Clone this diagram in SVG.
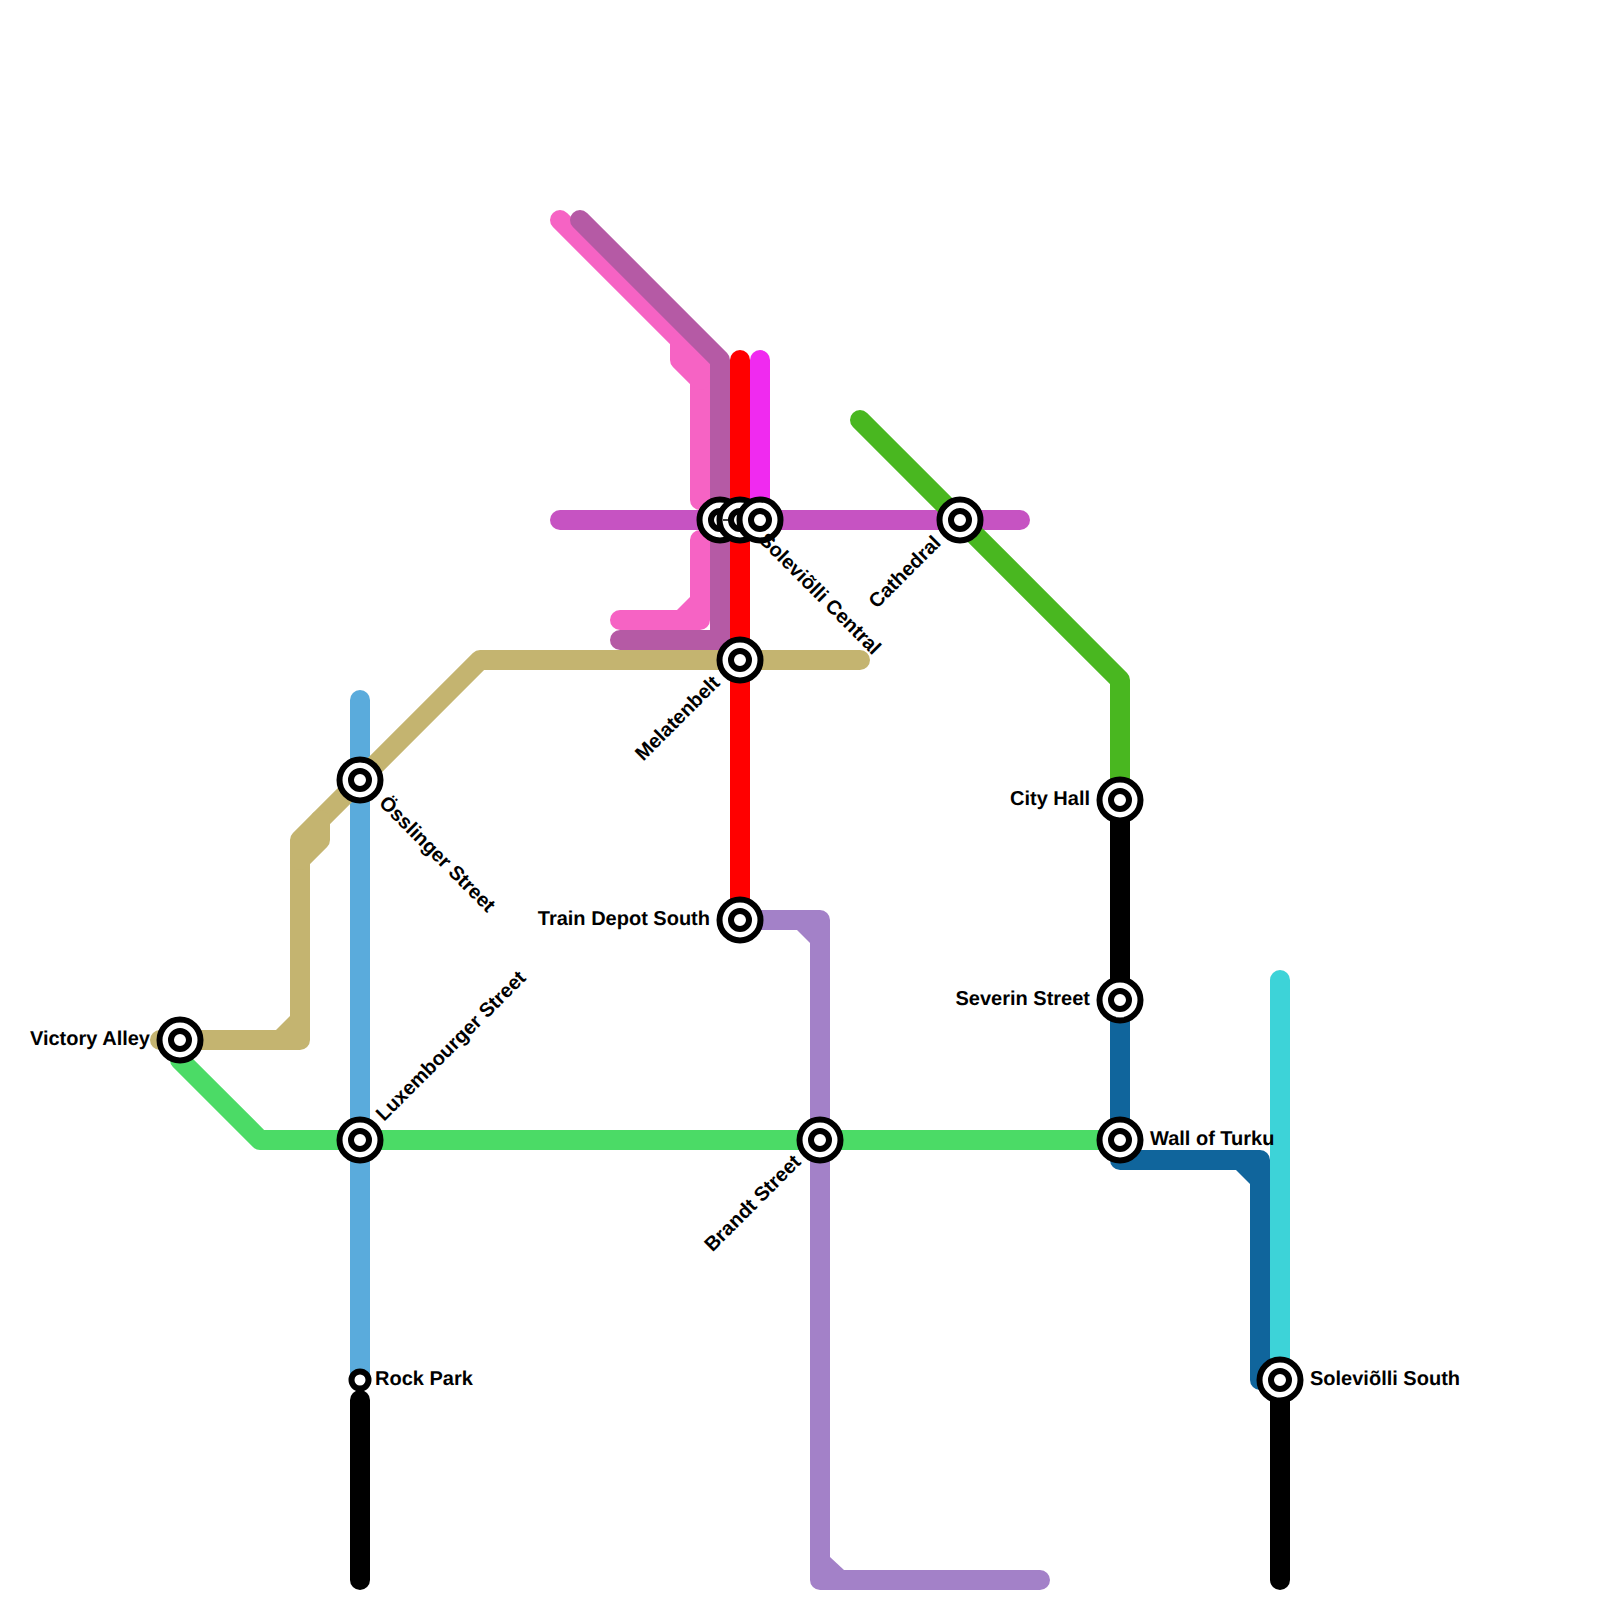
<svg xmlns="http://www.w3.org/2000/svg" width="1600" height="1600" viewBox="0 0 1600 1600">
<style>
.l{fill:none;stroke-width:20;stroke-linecap:round;stroke-linejoin:round}
.s{fill:#fff;stroke:#000;stroke-width:6}
.i{fill:#fff;stroke:#000;stroke-width:6}
text{font-family:"Liberation Sans",Arial,sans-serif;font-size:20px;font-weight:700;fill:#000;text-rendering:geometricPrecision}
.e{text-anchor:end}
</style>
<rect width="1600" height="1600" fill="#fff"/>
<g id="connectors">
<path class="l" stroke="#5aabdc" d="M360 700V1380"/>
<path class="l" stroke="#000" d="M360 1400V1580"/>
<path class="l" stroke="#c4b470" d="M160 1040H300V840L480 660H860"/>
<path class="l" stroke="#c4b470" d="M300 860L320 840V820"/>
<path fill="#c4b470" d="M290 1016L276 1030H290Z"/>
<path class="l" stroke="#4bdb66" d="M180 1060L260 1140H1120"/>
<path class="l" stroke="#f663c4" d="M560 220L700 360V500"/>
<path class="l" stroke="#f663c4" d="M680 340V360L700 380"/>
<path class="l" stroke="#b55aa5" d="M580 220L720 360V640H620"/>
<path class="l" stroke="#f663c4" d="M700 540V620H620"/>
<path fill="#f663c4" d="M690 597L677 610H690Z"/>
<path class="l" stroke="#f02af0" d="M760 360V520"/>
<path class="l" stroke="#ff0000" d="M740 360V920"/>
<path class="l" stroke="#c653c2" d="M560 520H1020"/>
<path class="l" stroke="#49b720" d="M860 420L1120 680V800"/>
<path class="l" stroke="#a381c8" d="M740 920H820V1580H1040"/>
<path fill="#a381c8" d="M797 930L810 943V930Z"/>
<path fill="#a381c8" d="M830 1557L844 1570H830Z"/>
<path class="l" stroke="#000" d="M1120 800V1000"/>
<path class="l" stroke="#3dd3d8" d="M1280 980V1380"/>
<path class="l" stroke="#10659c" d="M1120 1000V1160H1260V1380"/>
<path fill="#10659c" d="M1236 1170L1250 1184V1170Z"/>
<path class="l" stroke="#000" d="M1280 1380V1580"/>
</g>
<g id="victory-alley"><circle class="s" cx="180" cy="1040" r="20.5"/><circle class="i" cx="180" cy="1040" r="9"/><text class="e" x="150" y="1045">Victory Alley</text></g>
<g id="osslinger-street"><circle class="s" cx="360" cy="780" r="20.5"/><circle class="i" cx="360" cy="780" r="9"/><text transform="translate(378 804) rotate(45)">Össlinger Street</text></g>
<g id="luxembourger-street"><circle class="s" cx="360" cy="1140" r="20.5"/><circle class="i" cx="360" cy="1140" r="9"/><text transform="translate(384 1122) rotate(-45)">Luxembourger Street</text></g>
<g id="rock-park"><circle class="i" cx="360" cy="1380" r="8.5"/><text x="375" y="1385">Rock Park</text></g>
<g id="station-720"><circle class="s" cx="720" cy="520" r="20.5"/><circle class="i" cx="720" cy="520" r="9"/></g>
<g id="station-740"><circle class="s" cx="740" cy="520" r="20.5"/><circle class="i" cx="740" cy="520" r="9"/><path d="M723 520H730" stroke="#000" stroke-width="1.5"/></g>
<g id="soleviolli-central"><circle class="s" cx="760" cy="520" r="20.5"/><circle class="i" cx="760" cy="520" r="9"/><text transform="translate(758 541) rotate(45)">Soleviõlli Central</text></g>
<g id="melatenbelt"><circle class="s" cx="740" cy="660" r="20.5"/><circle class="i" cx="740" cy="660" r="9"/><text class="e" transform="translate(721 684) rotate(-45)">Melatenbelt</text></g>
<g id="train-depot-south"><circle class="s" cx="740" cy="920" r="20.5"/><circle class="i" cx="740" cy="920" r="9"/><text class="e" x="710" y="925">Train Depot South</text></g>
<g id="brandt-street"><circle class="s" cx="820" cy="1140" r="20.5"/><circle class="i" cx="820" cy="1140" r="9"/><text class="e" transform="translate(802 1163) rotate(-45)">Brandt Street</text></g>
<g id="cathedral"><circle class="s" cx="960" cy="520" r="20.5"/><circle class="i" cx="960" cy="520" r="9"/><text class="e" transform="translate(942 544) rotate(-45)">Cathedral</text></g>
<g id="city-hall"><circle class="s" cx="1120" cy="800" r="20.5"/><circle class="i" cx="1120" cy="800" r="9"/><text class="e" x="1090" y="805">City Hall</text></g>
<g id="severin-street"><circle class="s" cx="1120" cy="1000" r="20.5"/><circle class="i" cx="1120" cy="1000" r="9"/><text class="e" x="1090" y="1005">Severin Street</text></g>
<g id="wall-of-turku"><circle class="s" cx="1120" cy="1140" r="20.5"/><circle class="i" cx="1120" cy="1140" r="9"/><text x="1150" y="1145">Wall of Turku</text></g>
<g id="soleviolli-south"><circle class="s" cx="1280" cy="1380" r="20.5"/><circle class="i" cx="1280" cy="1380" r="9"/><text x="1310" y="1385">Soleviõlli South</text></g>
</svg>
